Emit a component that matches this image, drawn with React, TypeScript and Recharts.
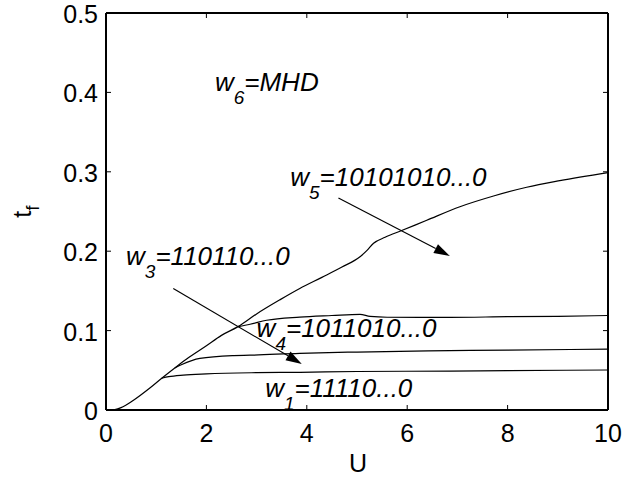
import React from "react";
import {
  LineChart,
  Line,
  XAxis,
  YAxis,
  ReferenceLine,
  ReferenceDot,
} from "recharts";

const FONT = "'Liberation Sans', Arial, Helvetica, sans-serif";

// shared rising part + w5 curve
const mainU = [0.14, 0.3, 0.54, 0.88, 1.11, 1.37, 1.6, 2.0, 2.3, 2.63, 3.0, 3.47, 3.86, 4.3, 4.7, 5.06, 5.2, 5.33, 5.56, 5.89, 6.39, 7.05, 7.72, 8.38, 9.04, 10];
const mainT = [0, 0.003, 0.012, 0.028, 0.04, 0.053, 0.064, 0.081, 0.094, 0.105, 0.121, 0.139, 0.153, 0.167, 0.18, 0.193, 0.201, 0.21, 0.2175, 0.226, 0.239, 0.256, 0.2695, 0.2805, 0.2888, 0.299];

// w4 branch
const w4U = [2.63, 2.87, 3.2, 3.86, 4.5, 5.06, 5.26, 5.6, 6.85, 8, 9, 10];
const w4T = [0.105, 0.108, 0.113, 0.117, 0.119, 0.1205, 0.1178, 0.1168, 0.1167, 0.1175, 0.118, 0.119];

// w3 branch
const w3U = [1.37, 1.5, 1.87, 2.54, 2.87, 3.86, 5, 6.85, 8, 10];
const w3T = [0.053, 0.057, 0.065, 0.0685, 0.069, 0.0714, 0.073, 0.0747, 0.0755, 0.0766];

// w1 branch
const w1U = [1.11, 1.25, 1.54, 2, 3, 3.86, 5, 6.85, 8, 10];
const w1T = [0.04, 0.042, 0.044, 0.0455, 0.047, 0.0475, 0.0485, 0.049, 0.0496, 0.0504];

const xTicks = [0, 2, 4, 6, 8, 10];
const yTicks = [0, 0.1, 0.2, 0.3, 0.4, 0.5];

// text annotations
const labelSubs = ["6", "5", "3", "4", "1"];
const labelTexts = ["=MHD", "=10101010...0", "=110110...0", "=1011010...0", "=11110...0"];
const labelU = [2.17, 3.67, 0.4, 3.0, 3.17];
const labelT = [0.402, 0.282, 0.183, 0.0923, 0.0168];

// arrows (start -> tip)
const arrowFromU = [1.34, 4.63];
const arrowFromT = [0.153, 0.267];
const arrowToU = [3.9, 6.85];
const arrowToT = [0.058, 0.194];

const toPts = (u: number[], t: number[]) => u.map((v, i) => ({ U: v, t: t[i] }));

const mainData = toPts(mainU, mainT);
const w4Data = toPts(w4U, w4T);
const w3Data = toPts(w3U, w3T);
const w1Data = toPts(w1U, w1T);

const BottomTick = (p: any) => (
  <g>
    <line x1={p.x} x2={p.x} y1={p.y} y2={p.y - 5} stroke="#000" strokeWidth={1} />
    <text x={p.x} y={p.y + 32} textAnchor="middle" fontSize={25} fontFamily={FONT} fill="#000">
      {p.payload.value}
    </text>
  </g>
);

const TopTick = (p: any) => (
  <line x1={p.x} x2={p.x} y1={p.y} y2={p.y + 5} stroke="#000" strokeWidth={1} />
);

const LeftTick = (p: any) => (
  <g>
    <line x1={p.x} x2={p.x + 5} y1={p.y} y2={p.y} stroke="#000" strokeWidth={1} />
    <text x={p.x - 8} y={p.y + 10} textAnchor="end" fontSize={25} fontFamily={FONT} fill="#000">
      {p.payload.value}
    </text>
  </g>
);

const RightTick = (p: any) => (
  <line x1={p.x} x2={p.x - 5} y1={p.y} y2={p.y} stroke="#000" strokeWidth={1} />
);

const Arrow = (p: any) => {
  const x1 = p.x1 ?? p.points?.[0]?.x;
  const y1 = p.y1 ?? p.points?.[0]?.y;
  const x2 = p.x2 ?? p.points?.[1]?.x;
  const y2 = p.y2 ?? p.points?.[1]?.y;
  const a = Math.atan2(y2 - y1, x2 - x1);
  const len = 16;
  const hw = 5;
  const bx = x2 - len * Math.cos(a);
  const by = y2 - len * Math.sin(a);
  const nx = -Math.sin(a) * hw;
  const ny = Math.cos(a) * hw;
  return (
    <g>
      <line x1={x1} y1={y1} x2={bx} y2={by} stroke="#000" strokeWidth={1.2} />
      <polygon points={`${x2},${y2} ${bx + nx},${by + ny} ${bx - nx},${by - ny}`} fill="#000" />
    </g>
  );
};

const makeLabel = (i: number) => (p: any) => (
  <text x={p.cx} y={p.cy} fontSize={26} fontStyle="italic" fontFamily={FONT} fill="#000">
    w
    <tspan dy={13} fontSize={19}>{labelSubs[i]}</tspan>
    <tspan dy={-13} fontSize={26}>{labelTexts[i]}</tspan>
  </text>
);

const YLabel = (p: any) => {
  const vb = p.viewBox || { x: 0, y: 13, width: 106, height: 397 };
  const cx = vb.x + 31;
  const cy = vb.y + vb.height / 2;
  return (
    <text x={cx} y={cy} transform={`rotate(-90, ${cx}, ${cy})`} textAnchor="middle" fontSize={25} fontFamily={FONT} fill="#000">
      t<tspan dy={8} fontSize={19}>f</tspan>
    </text>
  );
};

const XLabel = (p: any) => {
  const vb = p.viewBox || { x: 106, y: 410, width: 502, height: 69 };
  return (
    <text x={vb.x + vb.width / 2 + 1} y={vb.y + 62} textAnchor="middle" fontSize={25} fontFamily={FONT} fill="#000">
      U
    </text>
  );
};

export default function App() {
  return (
    <div style={{ position: "absolute", left: 0, top: 0 }}>
      <LineChart width={636} height={479} margin={{ top: 12, right: 27, left: 0, bottom: 0 }}>
        <XAxis
          dataKey="U"
          type="number"
          domain={[0, 10]}
          ticks={xTicks}
          height={69}
          tickSize={0}
          tickMargin={0}
          tickLine={false}
          tick={BottomTick}
          axisLine={{ stroke: "#000", strokeWidth: 2 }}
          allowDataOverflow
          label={{ content: XLabel }}
        />
        <XAxis
          xAxisId="top"
          orientation="top"
          dataKey="U"
          type="number"
          domain={[0, 10]}
          ticks={xTicks}
          height={1}
          tickSize={0}
          tickMargin={0}
          tickLine={false}
          tick={TopTick}
          axisLine={{ stroke: "#000", strokeWidth: 2 }}
          allowDataOverflow
        />
        <YAxis
          type="number"
          domain={[0, 0.5]}
          ticks={yTicks}
          width={106}
          tickSize={0}
          tickMargin={0}
          tickLine={false}
          tick={LeftTick}
          axisLine={{ stroke: "#000", strokeWidth: 2 }}
          allowDataOverflow
          label={{ content: YLabel }}
        />
        <YAxis
          yAxisId="right"
          orientation="right"
          type="number"
          domain={[0, 0.5]}
          ticks={yTicks}
          width={1}
          tickSize={0}
          tickMargin={0}
          tickLine={false}
          tick={RightTick}
          axisLine={{ stroke: "#000", strokeWidth: 2 }}
          allowDataOverflow
        />
        {/* invisible series so the top/right box axes get drawn */}
        <Line xAxisId="top" yAxisId="right" data={mainData} dataKey="t" stroke="none" dot={false} activeDot={false} isAnimationActive={false} />
        <Line data={mainData} dataKey="t" type="monotone" stroke="#000" strokeWidth={1.2} dot={false} isAnimationActive={false} />
        <Line data={w4Data} dataKey="t" type="monotone" stroke="#000" strokeWidth={1.2} dot={false} isAnimationActive={false} />
        <Line data={w3Data} dataKey="t" type="monotone" stroke="#000" strokeWidth={1.2} dot={false} isAnimationActive={false} />
        <Line data={w1Data} dataKey="t" type="monotone" stroke="#000" strokeWidth={1.2} dot={false} isAnimationActive={false} />
        {arrowFromU.map((u, i) => (
          <ReferenceLine
            key={"a" + i}
            segment={[
              { x: u, y: arrowFromT[i] },
              { x: arrowToU[i], y: arrowToT[i] },
            ]}
            shape={Arrow}
            ifOverflow="visible"
          />
        ))}
        {labelU.map((u, i) => (
          <ReferenceDot key={"l" + i} x={u} y={labelT[i]} r={0} shape={makeLabel(i)} ifOverflow="visible" />
        ))}
      </LineChart>
    </div>
  );
}
